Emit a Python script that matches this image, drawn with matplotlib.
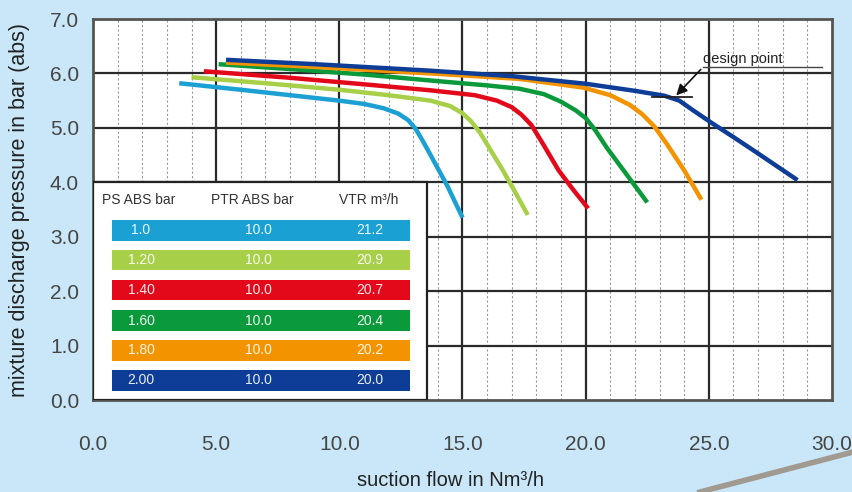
#!/usr/bin/env python3
"""Pump curves: mixture discharge pressure vs suction flow"""

import matplotlib

matplotlib.use("Agg")
import matplotlib.pyplot as plt
from matplotlib.patches import Rectangle
from matplotlib.lines import Line2D
import numpy

# curve data (suction flow Nm3/h, pressure bar abs)
flow_100 = [3.5, 6.0, 8.0, 10.0, 11.0, 11.8, 12.4, 12.8, 13.1, 13.4, 13.8, 14.4, 15.0]
pres_100 = [5.82, 5.70, 5.60, 5.50, 5.44, 5.36, 5.26, 5.14, 4.98, 4.75, 4.42, 3.92, 3.35]

flow_120 = [4.0, 7.0, 10.0, 12.0, 13.7, 14.5, 15.0, 15.35, 15.7, 16.1, 16.6, 17.1, 17.65]
pres_120 = [5.93, 5.82, 5.70, 5.60, 5.50, 5.40, 5.27, 5.12, 4.92, 4.62, 4.25, 3.85, 3.40]

flow_140 = [4.5, 8.0, 11.0, 13.7, 15.5, 16.4, 17.0, 17.4, 17.8, 18.3, 18.9, 19.5, 20.1]
pres_140 = [6.04, 5.92, 5.80, 5.69, 5.60, 5.50, 5.38, 5.24, 5.05, 4.68, 4.22, 3.86, 3.52]

flow_160 = [5.1, 8.0, 11.0, 13.7, 16.0, 17.3, 18.3, 19.0, 19.6, 20.0, 20.4, 20.85, 21.7, 22.5]
pres_160 = [6.17, 6.08, 5.98, 5.87, 5.78, 5.72, 5.62, 5.48, 5.32, 5.18, 4.95, 4.64, 4.12, 3.63]

flow_180 = [5.4, 9.0, 13.7, 17.3, 19.9, 21.0, 21.8, 22.3, 22.8, 23.3, 24.0, 24.7]
pres_180 = [6.20, 6.12, 6.00, 5.90, 5.74, 5.60, 5.42, 5.25, 5.02, 4.70, 4.22, 3.68]

flow_200 = [5.4, 9.0, 13.7, 17.0, 20.0, 22.0, 23.2, 23.8, 24.4, 25.15, 26.0, 26.8, 28.6]
pres_200 = [6.25, 6.17, 6.05, 5.95, 5.81, 5.68, 5.59, 5.50, 5.31, 5.08, 4.83, 4.59, 4.04]

flows = [flow_100, flow_120, flow_140, flow_160, flow_180, flow_200]
pressures = [pres_100, pres_120, pres_140, pres_160, pres_180, pres_200]

# legend table values
ps_abs = ["1.0", "1.20", "1.40", "1.60", "1.80", "2.00"]
ptr_abs = ["10.0", "10.0", "10.0", "10.0", "10.0", "10.0"]
vtr = ["21.2", "20.9", "20.7", "20.4", "20.2", "20.0"]

colors = ["#1aa0d2", "#a8cf48", "#e3081a", "#0b9a3b", "#f49300", "#0d3d96"]

x_ticks = [0, 5, 10, 15, 20, 25, 30]
y_ticks = [0, 1, 2, 3, 4, 5, 6, 7]

BG = "#c9e7f8"
FONT = "Liberation Sans"


def main() -> None:
    """Draw the chart"""
    plt.rcParams["font.family"] = [FONT, "DejaVu Sans"]
    fig = plt.figure(figsize=(8.53, 4.92), dpi=100, facecolor=BG)
    ax = fig.add_axes((93 / 853, 92 / 492, 739 / 853, 381 / 492))
    ax.set_facecolor("white")
    ax.set_xlim(0, 30)
    ax.set_ylim(0, 7)

    # grid
    for x in numpy.arange(1, 30):
        if x % 5:
            ax.axvline(x, color="#9a9a9a", lw=0.8, ls=(0, (2, 2)), zorder=1)
        else:
            ax.axvline(x, color="#2a2a2a", lw=1.6, zorder=1)
    for y in y_ticks[1:-1]:
        ax.axhline(y, color="#2a2a2a", lw=1.6, zorder=1)

    for spine in ax.spines.values():
        spine.set_color("#555555")
        spine.set_linewidth(2)

    ax.set_xticks(x_ticks)
    ax.set_xticklabels([f"{v:.1f}" for v in x_ticks])
    ax.set_yticks(y_ticks)
    ax.set_yticklabels([f"{v:.1f}" for v in y_ticks])
    ax.tick_params(length=0, labelsize=15, colors="#454545")
    ax.tick_params(axis="x", pad=25)
    ax.tick_params(axis="y", pad=10)

    # curves
    for fl, pr, col in zip(flows, pressures, colors):
        ax.plot(fl, pr, color=col, lw=3.2, solid_capstyle="butt",
                solid_joinstyle="round", zorder=4)

    # design point
    ax.add_line(Line2D([22.7, 24.3], [5.56, 5.56], color="#222222", lw=1.3, zorder=5))
    ax.annotate("", xy=(23.6, 5.56), xytext=(24.75, 6.11),
                arrowprops=dict(arrowstyle="-|>", color="#111111", lw=1.2,
                                mutation_scale=16), zorder=6)
    ax.text(24.75, 6.13, "design point", fontsize=10.5, color="#222222",
            ha="left", va="bottom", zorder=6)
    ax.add_line(Line2D([24.75, 29.6], [6.11, 6.11], color="#444444", lw=1.0, zorder=5))

    # legend table
    ax.add_patch(Rectangle((0, 0), 13.55, 4.0, facecolor="white",
                           edgecolor="#222222", lw=1.6, zorder=3))
    head_kw = dict(fontsize=10, color="#333333", va="center", zorder=6)
    ax.text(0.35, 3.67, "PS ABS bar", ha="left", **head_kw)
    ax.text(6.45, 3.67, "PTR ABS bar", ha="center", **head_kw)
    ax.text(11.2, 3.67, "VTR m³/h", ha="center", **head_kw)
    row_y = [3.12, 2.57, 2.02, 1.46, 0.91, 0.36]
    for yc, col, ps, ptr, v in zip(row_y, colors, ps_abs, ptr_abs, vtr):
        ax.add_patch(Rectangle((0.77, yc - 0.19), 12.1, 0.38, facecolor=col,
                               edgecolor="none", zorder=4))
        cell_kw = dict(fontsize=10, color="white", va="center", ha="center",
                       zorder=6, alpha=0.9)
        ax.text(1.95, yc, ps, **cell_kw)
        ax.text(6.7, yc, ptr, **cell_kw)
        ax.text(11.25, yc, v, **cell_kw)

    # axis titles
    fig.text(20 / 853, 1 - 210 / 492, "mixture discharge pressure in bar (abs)",
             rotation=90, ha="center", va="center", fontsize=15.5, color="#222222")
    fig.text(451 / 853, 1 - 481 / 492, "suction flow in Nm³/h",
             ha="center", va="center", fontsize=14.5, color="#222222")

    # decorative swoosh bottom right
    fig.add_artist(Line2D([700 / 853, 1.0], [0.0, 40 / 492], color="#a09a90",
                          lw=4, transform=fig.transFigure))

    fig.savefig("out.png", dpi=100, facecolor=BG)


if __name__ == "__main__":
    main()
